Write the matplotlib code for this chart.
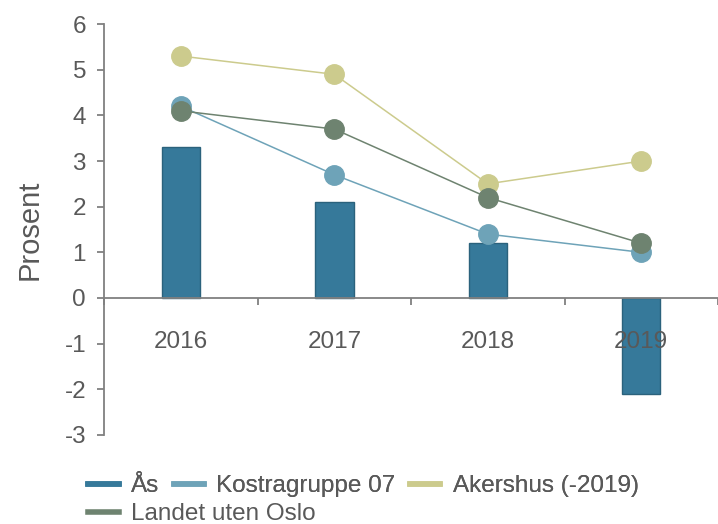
import numpy as np
import matplotlib.pyplot as plt
from matplotlib.lines import Line2D

plt.rcParams['font.family'] = ['Liberation Sans', 'DejaVu Sans']
plt.rcParams['axes.unicode_minus'] = False

years = ['2016', '2017', '2018', '2019']
aas = [3.3, 2.1, 1.2, -2.1]
kostra = [4.2, 2.7, 1.4, 1.0]
akershus = [5.3, 4.9, 2.5, 3.0]
landet = [4.1, 3.7, 2.2, 1.2]

c_aas = '#36799a'
c_kostra = '#6ea3b8'
c_akershus = '#cccb8d'
c_landet = '#6e8370'
txt = '#595959'
axc = '#808080'

x = np.arange(len(years))

fig = plt.figure(figsize=(7.18, 5.24), dpi=100)
ax = fig.add_axes([0.145, 0.170, 0.855, 0.784])

ax.bar(x, aas, width=0.25, color=c_aas, edgecolor='#2b627c', linewidth=1, zorder=1)
ax.plot(x, kostra, color=c_kostra, lw=1.1, marker='o', ms=14, zorder=3)
ax.plot(x, akershus, color=c_akershus, lw=1.1, marker='o', ms=14, zorder=3)
ax.plot(x, landet, color=c_landet, lw=1.1, marker='o', ms=14, zorder=4)

ax.set_xlim(-0.5, 3.46)
ax.set_ylim(-3, 6)
ax.set_yticks(range(-3, 7))

ax.spines['top'].set_visible(False)
ax.spines['right'].set_visible(False)
ax.spines['bottom'].set_position(('data', 0))
for s in ['left', 'bottom']:
    ax.spines[s].set_color(axc)
    ax.spines[s].set_linewidth(1.3)
ax.xaxis.set_zorder(5)

ax.set_xticks(x)
ax.set_xticklabels(years)
ax.set_xticks(np.arange(-0.5, 4, 1), minor=True)
ax.tick_params(axis='x', which='major', length=0, pad=24, labelsize=17.5, labelcolor=txt)
ax.tick_params(axis='x', which='minor', length=5, width=1.3, color=axc, direction='out')
ax.tick_params(axis='y', length=5, width=1.3, color=axc, pad=8, labelsize=17.5, labelcolor=txt)

ax.set_ylabel('Prosent', fontsize=21, color=txt, labelpad=15)

h1 = [Line2D([], [], color=c, lw=4) for c in [c_aas, c_kostra, c_akershus]]
leg1 = fig.legend(h1, ['Ås', 'Kostragruppe 07', 'Akershus (-2019)'], ncol=3,
                  loc='upper left', bbox_to_anchor=(0.123, 0.093), frameon=False,
                  fontsize=17.5, labelcolor=txt, handlelength=1.25, handletextpad=0.5,
                  columnspacing=0.6, borderpad=0, borderaxespad=0)
h2 = [Line2D([], [], color=c_landet, lw=4)]
leg2 = fig.legend(h2, ['Landet uten Oslo'], loc='upper left',
                  bbox_to_anchor=(0.123, 0.040), frameon=False,
                  fontsize=17.5, labelcolor=txt, handlelength=1.25, handletextpad=0.5,
                  borderpad=0, borderaxespad=0)
fig.add_artist(leg1)

fig.savefig('out.png', dpi=100)
